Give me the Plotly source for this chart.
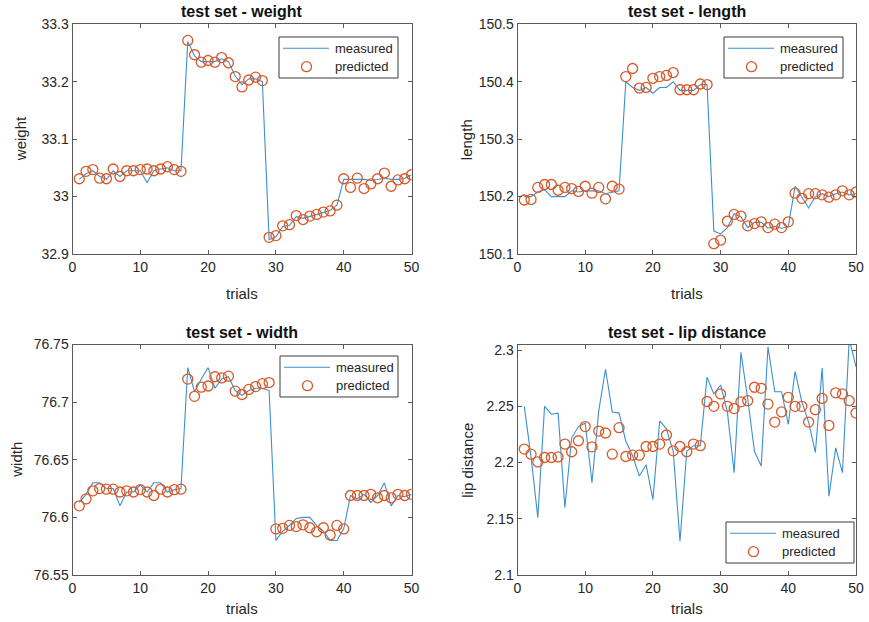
import plotly.graph_objects as go

trials = list(range(1, 51))

weight_measured = [33.030, 33.040, 33.045, 33.035, 33.030, 33.045, 33.035, 33.045, 33.045, 33.045,
                   33.024, 33.045, 33.048, 33.050, 33.045, 33.045, 33.270, 33.245, 33.235, 33.235,
                   33.235, 33.240, 33.235, 33.210, 33.195, 33.205, 33.205, 33.200, 32.925, 32.930,
                   32.948, 32.950, 32.965, 32.962, 32.965, 32.968, 32.972, 32.976, 32.985, 33.030,
                   33.030, 33.030, 33.030, 33.028, 33.030, 33.032, 33.030, 33.030, 33.032, 33.038]
weight_predicted = [33.031, 33.044, 33.047, 33.032, 33.031, 33.048, 33.035, 33.045, 33.045, 33.047,
                    33.048, 33.045, 33.048, 33.052, 33.047, 33.044, 33.272, 33.247, 33.234, 33.237,
                    33.234, 33.242, 33.233, 33.209, 33.191, 33.203, 33.208, 33.202, 32.929, 32.932,
                    32.949, 32.951, 32.967, 32.960, 32.966, 32.969, 32.973, 32.975, 32.985, 33.031,
                    33.016, 33.032, 33.014, 33.022, 33.031, 33.041, 33.018, 33.029, 33.031, 33.038]

length_measured = [150.200, 150.200, 150.208, 150.212, 150.200, 150.200, 150.200, 150.210, 150.208, 150.210,
                   150.210, 150.210, 150.205, 150.208, 150.210, 150.400, 150.390, 150.385, 150.390, 150.380,
                   150.390, 150.390, 150.400, 150.385, 150.385, 150.385, 150.395, 150.395, 150.140, 150.135,
                   150.146, 150.170, 150.165, 150.146, 150.155, 150.155, 150.145, 150.148, 150.145, 150.148,
                   150.218, 150.200, 150.180, 150.200, 150.205, 150.200, 150.205, 150.208, 150.203, 150.205]
length_predicted = [150.194, 150.195, 150.216, 150.221, 150.221, 150.211, 150.216, 150.214, 150.209, 150.218,
                    150.206, 150.216, 150.196, 150.218, 150.213, 150.409, 150.423, 150.389, 150.390, 150.406,
                    150.409, 150.411, 150.416, 150.386, 150.386, 150.386, 150.396, 150.395, 150.118, 150.124,
                    150.157, 150.169, 150.166, 150.149, 150.153, 150.156, 150.146, 150.152, 150.146, 150.156,
                    150.206, 150.197, 150.205, 150.205, 150.203, 150.199, 150.203, 150.210, 150.203, 150.208]

width_measured = [76.613, 76.620, 76.630, 76.630, 76.625, 76.625, 76.610, 76.622, 76.622, 76.628,
                  76.622, 76.630, 76.630, 76.622, 76.624, 76.625, 76.730, 76.709, 76.720, 76.730,
                  76.712, 76.720, 76.722, 76.710, 76.706, 76.710, 76.712, 76.712, 76.710, 76.580,
                  76.588, 76.593, 76.599, 76.600, 76.600, 76.593, 76.588, 76.580, 76.580, 76.590,
                  76.619, 76.616, 76.620, 76.613, 76.619, 76.630, 76.610, 76.619, 76.618, 76.620]
width_predicted = [76.610, 76.616, 76.623, 76.625, 76.6245, 76.6245, 76.622, 76.623, 76.622, 76.624,
                   76.622, 76.619, 76.6245, 76.622, 76.624, 76.6245, 76.720, 76.705, 76.713, 76.714,
                   76.722, 76.721, 76.7225, 76.7095, 76.7066, 76.711, 76.7135, 76.716, 76.717, 76.590,
                   76.5905, 76.593, 76.592, 76.5935, 76.591, 76.5875, 76.591, 76.5847, 76.593, 76.590,
                   76.619, 76.619, 76.619, 76.620, 76.617, 76.619, 76.617, 76.620, 76.619, 76.620]

lip_measured = [2.250, 2.205, 2.151, 2.250, 2.243, 2.244, 2.160, 2.222, 2.232, 2.235,
                2.182, 2.246, 2.283, 2.245, 2.244, 2.219, 2.206, 2.188, 2.198, 2.167,
                2.237, 2.230, 2.210, 2.130, 2.210, 2.215, 2.215, 2.276, 2.261, 2.269,
                2.245, 2.191, 2.298, 2.257, 2.210, 2.197, 2.303, 2.263, 2.263, 2.234,
                2.281, 2.254, 2.236, 2.209, 2.284, 2.170, 2.213, 2.191, 2.310, 2.285]
lip_predicted = [2.212, 2.2075, 2.2006, 2.2045, 2.2045, 2.205, 2.2164, 2.2096, 2.2194, 2.232,
                 2.214, 2.228, 2.2263, 2.2075, 2.231, 2.2054, 2.2066, 2.2066, 2.2143, 2.2143,
                 2.2164, 2.2245, 2.2104, 2.2143, 2.2096, 2.2164, 2.215, 2.2543, 2.250, 2.261,
                 2.250, 2.248, 2.254, 2.255, 2.267, 2.266, 2.252, 2.236, 2.245, 2.258,
                 2.250, 2.250, 2.236, 2.247, 2.257, 2.233, 2.262, 2.261, 2.255, 2.244]

x_ticks = [0, 10, 20, 30, 40, 50]
weight_ticks = [32.9, 33.0, 33.1, 33.2, 33.3]
weight_ticktext = ["32.9", "33", "33.1", "33.2", "33.3"]
length_ticks = [150.1, 150.2, 150.3, 150.4, 150.5]
length_ticktext = ["150.1", "150.2", "150.3", "150.4", "150.5"]
width_ticks = [76.55, 76.6, 76.65, 76.7, 76.75]
width_ticktext = ["76.55", "76.6", "76.65", "76.7", "76.75"]
lip_ticks = [2.1, 2.15, 2.2, 2.25, 2.3]
lip_ticktext = ["2.1", "2.15", "2.2", "2.25", "2.3"]

titles = ["test set - weight", "test set - length", "test set - width", "test set - lip distance"]
ylabels = ["weight", "length", "width", "lip distance"]
legend_names = ["measured", "predicted"]

W, H = 869, 622
FONT = "Liberation Sans, Arial, sans-serif"
TXT = "#262626"
AX = "#5a5a5a"
BLUE = "#3c8fd0"
ORANGE = "#d65a2a"


def px_x(p):
    return p / W


def px_y(p):
    return 1 - p / H


# panel pixel boxes: (left, right, top, bottom)
boxes = [(72.5, 411.5, 24.3, 254.0), (517.5, 856.0, 24.3, 254.0),
         (72.5, 411.5, 344.5, 575.0), (517.5, 856.0, 344.5, 575.0)]
yranges = [[32.9, 33.3], [150.1, 150.5], [76.55, 76.75], [2.1, 2.305]]
yticks = [(weight_ticks, weight_ticktext), (length_ticks, length_ticktext),
          (width_ticks, width_ticktext), (lip_ticks, lip_ticktext)]
series = [(weight_measured, weight_predicted), (length_measured, length_predicted),
          (width_measured, width_predicted), (lip_measured, lip_predicted)]
# legend boxes in px: (left, top, right)
legend_box = [(279, 37, 398), (724, 37, 843), (280, 356, 398), (726, 522, 854)]
LEG_H = 41
ylabel_x = [20, 466, 17, 468]
xlabel_off = [39, 39, 33, 33]

fig = go.Figure()
layout = dict(width=W, height=H, margin=dict(l=0, r=0, t=0, b=0, autoexpand=False),
              paper_bgcolor="white", plot_bgcolor="white", showlegend=False,
              font=dict(family=FONT, color=TXT, size=14), annotations=[], shapes=[])

for i in range(4):
    n = i + 1
    xa = "x" if n == 1 else f"x{n}"
    ya = "y" if n == 1 else f"y{n}"
    meas, pred = series[i]
    fig.add_trace(go.Scatter(x=trials, y=meas, mode="lines", name=legend_names[0],
                             line=dict(color=BLUE, width=1.1), xaxis=xa, yaxis=ya))
    fig.add_trace(go.Scatter(x=trials, y=pred, mode="markers", name=legend_names[1],
                             marker=dict(symbol="circle-open", size=10, color=ORANGE,
                                         line=dict(width=1.3, color=ORANGE)),
                             xaxis=xa, yaxis=ya))
    l, r, t, b = boxes[i]
    axcommon = dict(showline=True, linecolor=AX, linewidth=1, mirror="ticks",
                    ticks="inside", ticklen=4, tickcolor=AX, tickwidth=1,
                    showgrid=False, zeroline=False, automargin=False,
                    tickfont=dict(family=FONT, size=14, color=TXT))
    layout["xaxis" if n == 1 else f"xaxis{n}"] = dict(
        domain=[px_x(l), px_x(r)], anchor=ya, range=[0, 50],
        tickmode="array", tickvals=x_ticks, ticktext=[str(v) for v in x_ticks], **axcommon)
    tv, tt = yticks[i]
    layout["yaxis" if n == 1 else f"yaxis{n}"] = dict(
        domain=[px_y(b), px_y(t)], anchor=xa, range=yranges[i],
        tickmode="array", tickvals=tv, ticktext=tt, **axcommon)

    # legend box (drawn by hand to match the MATLAB legend layout)
    ll, lt, lr = legend_box[i]
    row1, row2 = lt + 11.3, lt + 29.7
    layout["shapes"].append(dict(type="rect", xref="paper", yref="paper",
                                 x0=px_x(ll), x1=px_x(lr), y0=px_y(lt + LEG_H), y1=px_y(lt),
                                 line=dict(color="#3a3a3a", width=1), fillcolor="white", layer="above"))
    layout["shapes"].append(dict(type="line", xref="paper", yref="paper",
                                 x0=px_x(ll + 4), x1=px_x(ll + 50), y0=px_y(row1), y1=px_y(row1),
                                 line=dict(color=BLUE, width=1.1), layer="above"))
    layout["shapes"].append(dict(type="circle", xref="paper", yref="paper",
                                 x0=px_x(ll + 22.5), x1=px_x(ll + 32.5),
                                 y0=px_y(row2 + 5), y1=px_y(row2 - 5),
                                 line=dict(color=ORANGE, width=1.3), layer="above"))
    for txt, ry in zip(legend_names, (row1, row2)):
        layout["annotations"].append(dict(text=txt, x=px_x(ll + 54), y=px_y(ry),
                                          xref="paper", yref="paper", showarrow=False,
                                          xanchor="left", yanchor="middle",
                                          font=dict(family=FONT, size=13, color=TXT)))

    cx = px_x((l + r) / 2)
    layout["annotations"].append(dict(text=f"<b>{titles[i]}</b>", x=cx, y=px_y(t - 12.5),
                                      xref="paper", yref="paper", showarrow=False,
                                      xanchor="center", yanchor="middle",
                                      font=dict(family=FONT, size=16, color="#111")))
    layout["annotations"].append(dict(text="trials", x=cx, y=px_y(b + xlabel_off[i]),
                                      xref="paper", yref="paper", showarrow=False,
                                      xanchor="center", yanchor="middle",
                                      font=dict(family=FONT, size=15, color=TXT)))
    layout["annotations"].append(dict(text=ylabels[i], x=px_x(ylabel_x[i]), y=px_y((t + b) / 2),
                                      xref="paper", yref="paper", showarrow=False, textangle=-90,
                                      xanchor="center", yanchor="middle",
                                      font=dict(family=FONT, size=15, color=TXT)))

fig.update_layout(**layout)
fig.write_html("out.html")
